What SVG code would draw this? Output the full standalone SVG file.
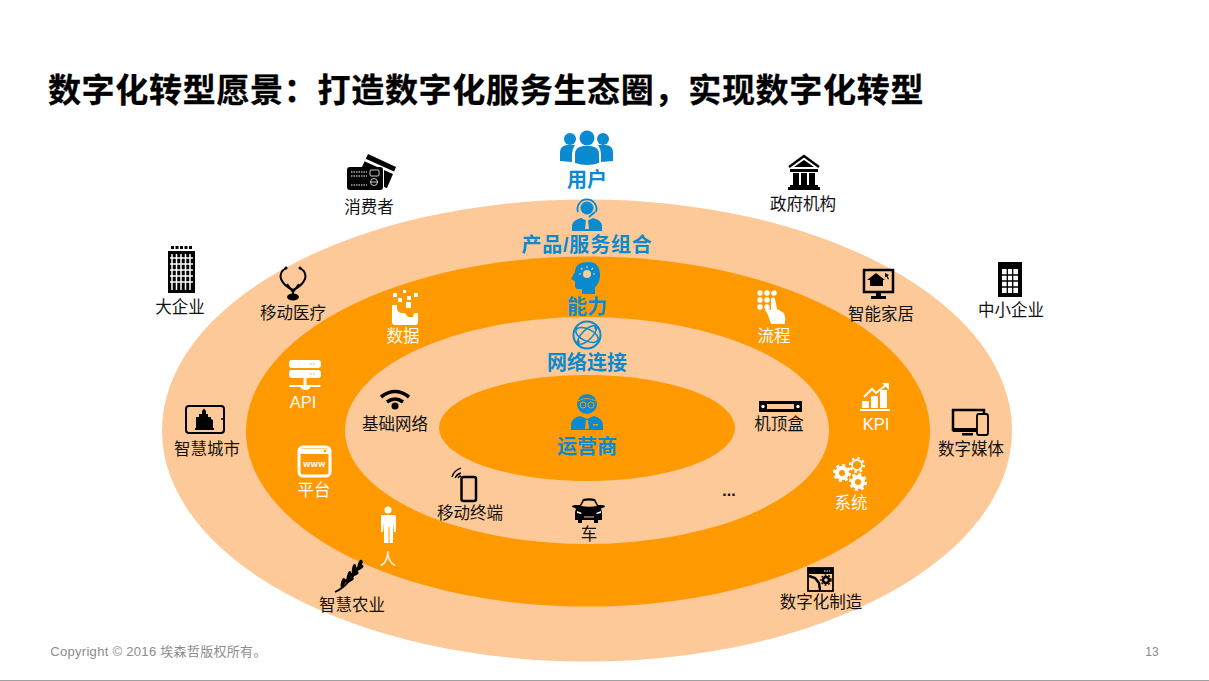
<svg xmlns="http://www.w3.org/2000/svg" width="1209" height="681" viewBox="0 0 1209 681">
<style>
text{font-family:"Liberation Sans","Noto Sans CJK SC",sans-serif;text-anchor:middle}
.k{font-size:16.5px;fill:#111}
.w{font-size:16.5px;fill:#fff}
.b{font-size:20px;font-weight:700;fill:#0a8ad0}
.ik{fill:#000}.ikl{fill:none;stroke:#000}
.iw{fill:#fff}.iwl{fill:none;stroke:#fff}
.ib{fill:#0a8ad0}.ibl{fill:none;stroke:#0a8ad0}
.p{fill:#fdc998}
</style>
<rect width="1209" height="681" fill="#fff"/>
<g id="rings">
<ellipse cx="587" cy="430.500" rx="425" ry="231" fill="#fdc998"/>
<ellipse cx="588" cy="431.500" rx="342" ry="175" fill="#ff9900"/>
<ellipse cx="587" cy="430.500" rx="242" ry="113.500" fill="#fdc998"/>
<ellipse cx="587" cy="428" rx="148" ry="53" fill="#ff9900"/>
</g>
<text x="486" y="102" style="font-size:33px;font-weight:700;letter-spacing:0.700px;fill:#000;stroke:#000;stroke-width:0.300px">数字化转型愿景：打造数字化服务生态圈，实现数字化转型</text>
<g id="user"><g class="ib"><circle cx="570" cy="139" r="6"/><circle cx="587" cy="138" r="7.500"/><circle cx="603" cy="139" r="6"/><path d="M560 161v-9q0-6 7-7h8q-3 4-3 9v8z"/><path d="M613 161v-9q0-6-7-7h-8q3 4 3 9v8z"/><path d="M575 163v-9q0-7 8-8h8q8 1 8 8v9q-12 4-24 0z"/></g><text class="b" x="587" y="187">用户</text></g>
<g id="product"><path class="ib" d="M572 231v-6q1-5 9-7l6 3 6-3q8 2 9 7v6z"/><circle class="ib" cx="587" cy="208" r="6.500"/><path class="ibl" d="M578 212a9.500 9.500 0 1 1 18 0M595 212l-6 5" stroke-width="1.800"/><path class="p" d="M586 220h2l1 9h-4z"/><text class="b" x="587" y="252" style="letter-spacing:0.800px">产品/服务组合</text></g>
<g id="capability"><path class="ib" d="M588 262q12 0 12 13 0 8-5 12v7h-13v-5h-4q-3 0-3-3v-5l-4-2 4-7q0-10 13-10z"/><circle cx="587" cy="274" r="4" fill="#fc9"/><path d="M587 266v2M579 274h2M593 274h2M581 268l1.500 1.500M593 268l-1.500 1.500" stroke="#fc9" stroke-width="1.200"/><text class="b" x="587" y="314">能力</text></g>
<g id="network"><circle class="ibl" cx="587" cy="335" r="13.500" stroke-width="2"/><ellipse class="ibl" cx="587" cy="335" rx="12" ry="6" transform="rotate(25 587 335)" stroke-width="1.500"/><ellipse class="ibl" cx="587" cy="335" rx="12" ry="5" transform="rotate(-45 587 335)" stroke-width="1.500"/><circle class="ib" cx="596" cy="328" r="1.800"/><circle class="ib" cx="578" cy="342" r="1.800"/><text class="b" x="587" y="370">网络连接</text></g>
<g id="operator"><g class="ib"><circle cx="587" cy="404" r="10"/><path d="M571 430v-6q1-6 9-8l7 3 7-3q8 2 9 8v6z"/></g><path d="M578 401q9-5 18 0" fill="none" stroke="#ff9900" stroke-width="1.200"/><circle cx="583" cy="405" r="3" fill="none" stroke="#ff9900" stroke-width="1"/><circle cx="591" cy="405" r="3" fill="none" stroke="#ff9900" stroke-width="1"/><path d="M586 420h2l1 9h-4zM593 424h5v1.500h-5z" fill="#ff9900"/><text class="b" x="587" y="454">运营商</text></g>
<g id="consumer"><path class="ik" d="M362 167l6-13 28 13-9 21-3-1v-17q0-3-4-3z"/><path d="M365 160l29 13" stroke="#fff" stroke-width="3"/><rect class="ik" x="347" y="167" width="36" height="23" rx="3"/><path d="M351 172h16M351 176h16M351 185h16" stroke="#fff" stroke-dasharray="1.500 1" fill="none"/><rect x="370" y="170" width="9" height="6" rx="1" fill="none" stroke="#fff" stroke-width="0.800"/><circle cx="374" cy="182" r="3.500" fill="none" stroke="#fff" stroke-width="0.800"/><path d="M370.500 182h7" stroke="#fff" stroke-width="0.800"/><text class="k" x="369" y="213">消费者</text></g>
<g id="gov"><path class="ikl" d="M789 167l15-11 15 11" stroke-width="2.500"/><path class="ik" d="M804 160l10 7h-20zM790 169h28v3h-28zM793 173h6v12h-6zM801 173h6v12h-6zM809 173h6v12h-6zM790 185h28v2h-28zM788 187h32v3h-32z"/><text class="k" x="803" y="210">政府机构</text></g>
<g id="bigco"><rect class="ik" x="168" y="251" width="27" height="42"/><path d="M172 254v36M176.500 254v36M181 254v36M185.500 254v36M190 254v36M170 258h23M170 264h23M170 270h23M170 276h23M170 282h23" stroke="#fff" stroke-width="1.500" fill="none"/><path d="M171 247.500h22" stroke="#000" stroke-width="3" stroke-dasharray="3 1.500"/><text class="k" x="180" y="313">大企业</text></g>
<g id="health"><path class="ikl" d="M286 268q-7 4-5 11 3 7 12 11 9-4 12-11 2-7-5-11M287 284l6 8 6-8" stroke-width="2"/><circle class="ik" cx="286" cy="268" r="1.500"/><circle class="ik" cx="300" cy="268" r="1.500"/><path d="M293 290v5" stroke="#000" stroke-width="2"/><ellipse class="ik" cx="293" cy="297" rx="6" ry="3.500"/><text class="k" x="293" y="319">移动医疗</text></g>
<g id="data"><path class="iw" d="M392 305h5v4q1 4 5 4h3l3 4h5l1-4h4v-8h0v17q0 3-3 3h-20q-3 0-3-3z"/><path class="iw" d="M393 293h4v4h-4zM403 290h3v3h-3zM414 293h4v4h-4zM398 298h4v4h-4zM406 302h5v6h-5zM407 296h4v4h-4z"/><text class="w" x="403" y="342">数据</text></g>
<g id="process"><g class="iw"><circle cx="760" cy="293" r="2.700"/><circle cx="767" cy="293" r="2.700"/><circle cx="774" cy="293" r="2.700"/><circle cx="760" cy="300" r="2.700"/><circle cx="767" cy="300" r="2.700"/><circle cx="760" cy="307" r="2.700"/><circle cx="767" cy="307" r="2.700"/><path d="M771 298q3-2 4 1l2 10 7 4q2 5 1 11h-14l-3-9-3-5 3-1 3 1z"/></g><text class="w" x="774" y="342">流程</text></g>
<g id="smarthome"><rect class="ikl" x="864" y="270" width="29" height="22" stroke-width="2.500"/><path class="ik" d="M876 273l9 7h-2v6h-13v-6h-3z"/><path class="ik" d="M885 273l4 2-1.500 1 1.500 3-1 .5-1.500-3-1.500 1z"/><path class="ik" d="M876 293h5v3h5v3h-15v-3h5z"/><text class="k" x="881" y="320">智能家居</text></g>
<g id="smallco"><rect class="ik" x="998" y="262" width="24" height="35"/><rect class="iw" x="1002" y="269" width="16" height="24"/><path d="M1007.300 269v24M1012.700 269v24M1002 275h16M1002 281h16M1002 287h16" stroke="#000" stroke-width="1.300" fill="none"/><text class="k" x="1011" y="316">中小企业</text></g>
<g id="api"><rect class="iw" x="289" y="360" width="32" height="8" rx="3"/><rect class="iw" x="289" y="370" width="32" height="8" rx="3"/><path d="M310 364h6M310 374h6" stroke="#ff9900" stroke-dasharray="1.500 1.500"/><path class="iw" d="M303.500 378h3v7h14v2h-10q-1 3-5 3t-5-3h-11v-2h14z"/><text class="w" x="303" y="408">API</text></g>
<g id="wifi"><path class="ikl" d="M381 397q14-11 28 0M387 402q8-6 16 0" stroke-width="3.500"/><circle class="ik" cx="395" cy="406" r="3.500"/><text class="k" x="395" y="430">基础网络</text></g>
<g id="stb"><rect class="ik" x="759" y="401" width="43" height="11"/><rect x="767" y="404" width="27" height="5" class="p"/><circle cx="763" cy="406.500" r="1.700" fill="#fff"/><circle cx="798" cy="406.500" r="1.700" fill="#fff"/><text class="k" x="779" y="430">机顶盒</text></g>
<g id="kpi"><path class="iw" d="M860 409h30v2h-30zM862 401h7v7h-7zM871 396h7v12h-7zM880 390h7v18h-7z"/><path class="iwl" d="M864 397l8-8 4 4 10-8" stroke-width="2"/><path class="iw" d="M882 383h7v7z"/><text class="w" x="876" y="430">KPI</text></g>
<g id="media"><rect class="ikl" x="953" y="410" width="31" height="20" stroke-width="2.500"/><rect class="ik" x="953" y="428" width="28" height="4"/><rect class="ik" x="962" y="433" width="11" height="2.500"/><rect x="977" y="414" width="11" height="21" rx="2" class="p" stroke="#000" stroke-width="1.800"/><text class="k" x="971" y="455">数字媒体</text></g>
<g id="city"><rect class="ikl" x="186" y="406" width="38" height="27" rx="3" stroke-width="2"/><circle cx="222" cy="419" r="1" class="ik"/><path class="ik" d="M195 430v-2h1v-11h3v-3h3v-3l2-2.500 2 2.500v3h2v3h3v2l2 1v8h1v2z"/><text class="k" x="207" y="455">智慧城市</text></g>
<g id="platform"><rect class="iwl" x="299" y="447" width="31" height="29" rx="4" stroke-width="3"/><path class="iw" d="M299 449h31v5h-31z"/><circle cx="325" cy="451" r="1.300" fill="#ff9900"/><text x="314.500" y="467" style="font-size:9px;font-weight:700;fill:#fff;letter-spacing:0.500px">www</text><text class="w" x="314" y="496">平台</text></g>
<g id="person"><circle class="iw" cx="388" cy="510" r="3.500"/><path class="iw" d="M381 515h14l1 1v16h-2l-1-10v21h-3.500v-16h-1v16H384v-21l-1 10h-2z"/><text class="w" x="388" y="565">人</text></g>
<g id="agri"><path d="M335 592q14-6 27-30" class="ikl" stroke-width="1.800"/><g class="ik"><ellipse cx="343" cy="583" rx="5" ry="2" transform="rotate(-75 343 583)"/><ellipse cx="349" cy="580" rx="5" ry="2" transform="rotate(-20 349 580)"/><ellipse cx="349" cy="576" rx="5" ry="2" transform="rotate(-75 349 576)"/><ellipse cx="354" cy="574" rx="5" ry="2" transform="rotate(-25 354 574)"/><ellipse cx="354" cy="569" rx="5" ry="2" transform="rotate(-80 354 569)"/><ellipse cx="359" cy="568" rx="5" ry="2" transform="rotate(-30 359 568)"/><ellipse cx="360" cy="564" rx="4.500" ry="2" transform="rotate(-70 360 564)"/></g><text class="k" x="352" y="611">智慧农业</text></g>
<g id="mobile"><path class="ikl" d="M452 477q2-7 9-9M455 478q2-4 6-5M458 478q1-2 3-2" stroke-width="1.300"/><rect class="ikl" x="461.500" y="477" width="14.500" height="24" rx="2" stroke-width="2.500"/><text class="k" x="470" y="519">移动终端</text></g>
<g id="car"><path class="ik" d="M580 505l3-6q6-1.500 12 0l3 6h4q3 0 3 2l-3 1-1 1 1 3v8h-4v3h-4v-3h-12v3h-4v-3h-3v-8l1-3-1-1-3-1q0-2 3-2z"/><path d="M581 506l3-5q5-1 10 0l3 5q-8 1.500-16 0z" class="p"/><path d="M577 511l5 2-1 1-4-1zM601 511l-5 2 1 1 4-1z" fill="#fff"/><path d="M584 517h10" stroke="#fdc998"/><text class="k" x="589" y="540">车</text></g>
<g id="more"><text x="729" y="496" style="font-size:16px;font-weight:700;fill:#111">...</text></g>
<g id="system"><circle class="iwl" cx="842" cy="473" r="5" stroke-width="4"/><circle class="iwl" cx="842" cy="473" r="7.500" stroke-width="3" stroke-dasharray="3 2.890"/><circle class="iwl" cx="858" cy="482" r="5" stroke-width="4"/><circle class="iwl" cx="858" cy="482" r="7.500" stroke-width="3" stroke-dasharray="3 2.890"/><circle class="iwl" cx="857" cy="465" r="5" stroke-width="1.800"/><circle class="iwl" cx="857" cy="465" r="7" stroke-width="2.200" stroke-dasharray="2.500 3"/><text class="w" x="851" y="509">系统</text></g>
<g id="manufacture"><rect class="ikl" x="808" y="568" width="25" height="23" stroke-width="1.800"/><rect class="ik" x="808" y="568" width="25" height="6"/><path d="M824 571h6" stroke="#fff" stroke-dasharray="1.500 1"/><circle class="ikl" cx="826" cy="580" r="3" stroke-width="2.500"/><circle class="ikl" cx="826" cy="580" r="5" stroke-width="1.500" stroke-dasharray="1.800 1.800"/><path class="ikl" d="M809 576l6 2 4 5 1 7" stroke-width="2.500"/><text class="k" x="821" y="608">数字化制造</text></g>
<g id="footer"><text x="158.500" y="656" style="font-size:13px;letter-spacing:0.300px;fill:#8c8c8c">Copyright © 2016 埃森哲版权所有。</text><text x="1152" y="656" style="font-size:12px;fill:#8c8c8c">13</text><path d="M0 680.500h1209" stroke="#a0a0a0"/></g>
</svg>
